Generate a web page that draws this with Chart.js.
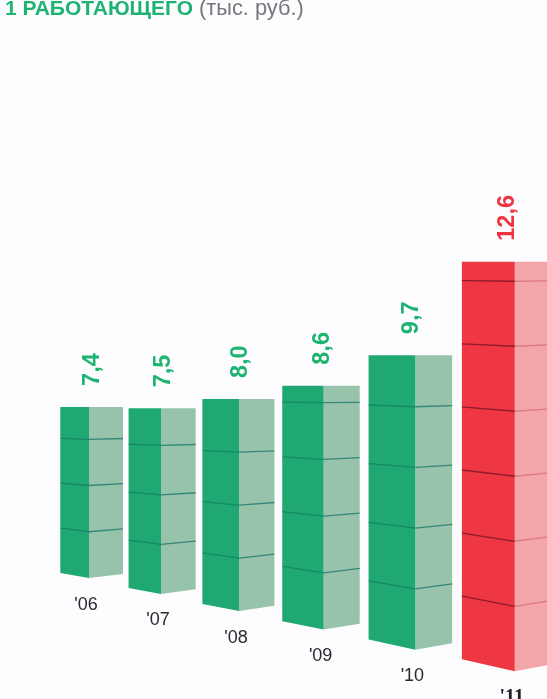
<!DOCTYPE html>
<html lang="ru">
<head>
<meta charset="utf-8">
<title>1 работающего</title>
<script src="https://cdn.jsdelivr.net/npm/chart.js@4"></script>
<style>
  html, body { margin: 0; padding: 0; background: #fdfdff; overflow: hidden; }
  #wrap { position: relative; width: 547px; height: 699px; overflow: hidden; }
  canvas { position: absolute; left: 0; top: 0; filter: blur(0.5px); }
  #head { position: absolute; left: 5px; top: -3px; font: 21.8px/22px "Liberation Sans", Arial, sans-serif; color: #77777b; white-space: nowrap; z-index: 2; }
  #head b { color: #1fb371; font-weight: bold; font-size: 21px; }
</style>
</head>
<body>
<div id="wrap">
  <div id="head"><b>1 РАБОТАЮЩЕГО</b> (тыс. руб.)</div>
  <canvas id="c" width="547" height="699"></canvas>
</div>
<script>
const categories = ["'06", "'07", "'08", "'09", "'10", "'11"];
const values = [7.4, 7.5, 8.0, 8.6, 9.7, 12.6];
const valueLabels = ["7,4", "7,5", "8,0", "8,6", "9,7", "12,6"];

const HIGHLIGHT = 5;
const TILE = 2; // one block = 2 thousand roubles

// Perspective: each bar stands one step closer to the viewer than the previous one.
const sum = (r, d) => (Math.pow(r, d) - 1) / (r - 1);
const projection = d => ({
  height: Math.pow(1.0705, d),
  spacing: sum(1.084, d),
  drop: 15.9 * sum(1.08, d),
  front: 28.7 * Math.pow(1.13, d),
  side: 34 * Math.pow(1.02, d),
  slantLeft: 5 * Math.pow(1.19, d),
  slantRight: 4 + 0.6 * d
});

function faceDraw(kind, lineColor) {
  return function (ctx) {
    const { top, bot, left, right, dropL, dropR } = this.face;
    ctx.save();
    ctx.fillStyle = this.options.backgroundColor;
    const at = (y, amt) => y - amt * (y - top) / (bot - top);
    const isFront = kind === 'front';
    ctx.beginPath();
    ctx.moveTo(left, top);
    ctx.lineTo(right, top);
    ctx.lineTo(right, isFront ? bot : at(bot, dropR));
    ctx.lineTo(left, isFront ? at(bot, dropL) : bot);
    ctx.closePath();
    ctx.fill();
    ctx.strokeStyle = lineColor(this.face.index);
    ctx.lineWidth = 1.3;
    for (let v = TILE; v < this.face.value; v += TILE) {
      const y = bot - (v / this.face.value) * (bot - top);
      ctx.beginPath();
      ctx.moveTo(left, isFront ? at(y, dropL) : y);
      ctx.lineTo(right, isFront ? y : at(y, dropR));
      ctx.stroke();
    }
    ctx.restore();
  };
}

const perspectivePlugin = {
  id: 'perspective',
  afterDatasetsUpdate(chart) {
    const step = chart.scales.x.getPixelForValue(1) - chart.scales.x.getPixelForValue(0);
    chart.data.datasets.forEach((ds, di) => {
      const kind = ds.face;
      chart.getDatasetMeta(di).data.forEach((el, i) => {
        const p = projection(i);
        const x0 = chart.scales.x.getPixelForValue(0);
        const mid = x0 + step * p.spacing;
        const bot = el.base + p.drop;
        const top = bot - (el.base - el.y) * p.height;
        const left = kind === 'front' ? mid - p.front : mid;
        const right = kind === 'front' ? mid : mid + p.side;
        el.x = (left + right) / 2;
        el.width = right - left;
        el.y = top;
        el.base = bot;
        el.face = { top, bot, left, right, mid, index: i, value: values[i], dropL: p.slantLeft, dropR: p.slantRight };
        el.draw = faceDraw(kind, idx => kind === 'front'
          ? (idx === HIGHLIGHT ? 'rgba(110,20,35,0.75)' : 'rgba(8,105,85,0.5)')
          : (idx === HIGHLIGHT ? 'rgba(205,85,95,0.55)' : 'rgba(25,120,105,0.8)'));
      });
    });
  },
  afterDatasetsDraw(chart) {
    const ctx = chart.ctx;
    const els = chart.getDatasetMeta(0).data;
    ctx.save();
    els.forEach((el, i) => {
      const f = el.face;
      ctx.textAlign = 'center';
      ctx.textBaseline = 'alphabetic';
      ctx.fillStyle = i === HIGHLIGHT ? '#222226' : '#2a2a2e';
      ctx.font = i === HIGHLIGHT
        ? 'bold 20px "Liberation Serif", serif'
        : '18px "Liberation Sans", Arial, sans-serif';
      ctx.fillText(categories[i], f.mid - 3, f.bot + 31.5);

      ctx.save();
      ctx.translate(f.mid + 9.5 - 0.42 * i * i, f.top - 21);
      ctx.rotate(-Math.PI / 2);
      ctx.textAlign = 'left';
      ctx.fillStyle = i === HIGHLIGHT ? '#ee3540' : '#1fb371';
      ctx.font = 'bold 23.5px "Liberation Sans", Arial, sans-serif';
      ctx.fillText(valueLabels[i], 0, 0);
      ctx.restore();
    });
    ctx.restore();
  }
};

const frontColors = categories.map((_, i) => i === HIGHLIGHT ? '#ee3742' : '#20a872');
const sideColors = categories.map((_, i) => i === HIGHLIGHT ? '#f3a6aa' : '#98c3ab');

new Chart(document.getElementById('c'), {
  type: 'bar',
  data: {
    labels: categories,
    datasets: [
      { label: 'Лицевая грань', face: 'front', data: values, backgroundColor: frontColors, grouped: false, clip: false },
      { label: 'Боковая грань', face: 'side', data: values, backgroundColor: sideColors, grouped: false, clip: false }
    ]
  },
  options: {
    responsive: false,
    animation: false,
    devicePixelRatio: 1,
    layout: { padding: { left: 53, right: 62, top: 0, bottom: 121 } },
    plugins: { legend: { display: false }, tooltip: { enabled: false }, title: { display: false } },
    scales: {
      x: { display: false },
      y: { display: false, min: 0, max: 25 }
    }
  },
  plugins: [perspectivePlugin]
});
</script>
</body>
</html>
